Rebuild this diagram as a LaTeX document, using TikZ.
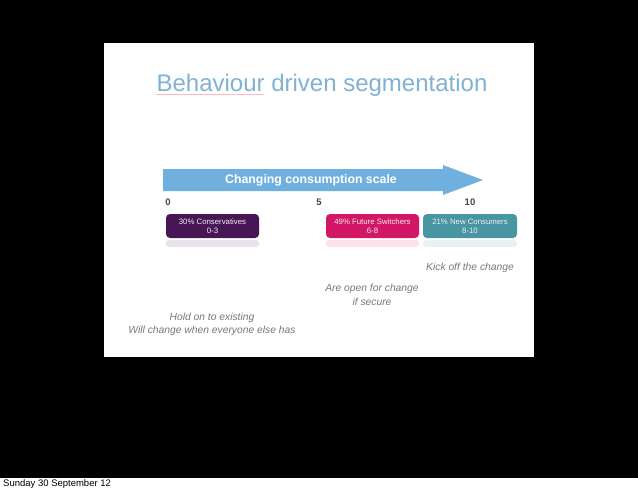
\documentclass[tikz,border=0pt]{standalone}
\usepackage{fontspec}
\setmainfont{Liberation Sans}
\usetikzlibrary{shapes.arrows}
\definecolor{titleblue}{RGB}{128,178,212}
\definecolor{arrowblue}{RGB}{112,176,222}
\definecolor{consv}{RGB}{72,22,84}
\definecolor{switch}{RGB}{212,22,102}
\definecolor{newc}{RGB}{72,150,162}
\definecolor{notegray}{RGB}{120,120,120}
\definecolor{numgray}{RGB}{70,70,70}
\tikzset{
  seg/.style={rounded corners=4pt, minimum width=93pt, minimum height=24pt, inner sep=0pt,
    text=white!88!gray, font=\fontsize{7.8}{9.2}\selectfont, align=center},
  refl/.style={rounded corners=3pt, opacity=0.12},
  note/.style={text=notegray, font=\fontsize{10.3}{13.5}\selectfont\itshape, align=center, inner sep=0pt},
  num/.style={text=numgray, font=\fontsize{9.5}{10}\selectfont\bfseries, inner sep=0pt}
}
\begin{document}
\begin{tikzpicture}[x=1pt,y=1pt]
\useasboundingbox (0,0) rectangle (638,-491);
\fill[black] (0,0) rectangle (638,-491);
\fill[white] (104,-43) rectangle (534,-357);
\fill[white] (0,-478) rectangle (638,-491);
% title
\node[text=titleblue, font=\fontsize{24}{26}\selectfont, inner sep=0pt, anchor=base] (title) at (322,-91) {Behaviour driven segmentation};
\draw[red!60, opacity=0.45, line width=0.5pt] (title.base west) ++(0,-3) coordinate (ul1) -- ++(108,0) coordinate (ul2);
% arrow
\fill[arrowblue] (163,-169) -- (443,-169) -- (443,-165) -- (483,-180) -- (443,-195) -- (443,-191) -- (163,-191) -- cycle;
\node[text=white, font=\fontsize{12.3}{13}\selectfont\bfseries, inner sep=0pt] (scale) at (311,-180) {Changing consumption scale};
% numbers
\node[num] (n0) at (168,-202) {0};
\node[num] (n5) at (319,-202) {5};
\node[num] (n10) at (470,-202) {10};
% reflections
\fill[consv, refl] (166,-240) rectangle (259,-247);
\fill[switch, refl] (326,-240) rectangle (419,-247);
\fill[newc, refl] (423,-240) rectangle (517,-247);
% segments
\node[seg, fill=consv] (cons) at (212.5,-226) {30\% Conservatives\\0-3};
\node[seg, fill=switch] (fut) at (372.5,-226) {49\% Future Switchers\\6-8};
\node[seg, fill=newc, minimum width=94pt] (new) at (470,-226) {21\% New Consumers\\8-10};
% notes
\node[note] (kick) at (470,-268) {Kick off the change};
\node[note] (open) at (372,-295) {Are open for change\\if secure};
\node[note] (hold) at (212,-324.5) {Hold on to existing\\Will change when everyone else has};
% footer
\node[anchor=west, font=\fontsize{9.5}{10}\selectfont, inner sep=0pt] (date) at (3,-484.5) {Sunday 30 September 12};
\end{tikzpicture}
\end{document}
